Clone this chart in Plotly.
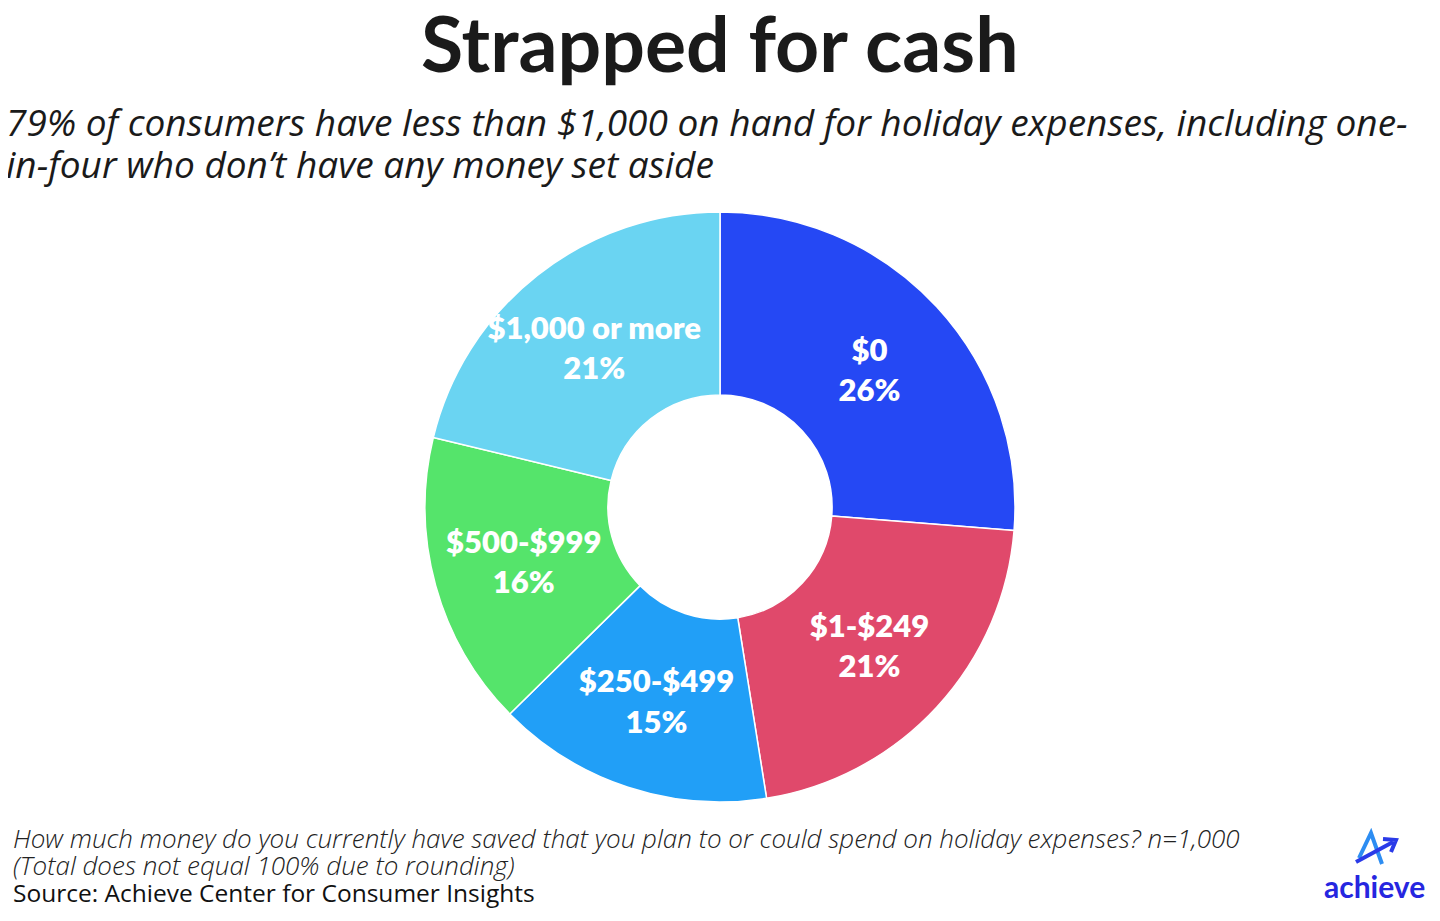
import plotly.graph_objects as go

categories = ["$0", "$1-$249", "$250-$499", "$500-$999", "$1,000 or more"]
shares = [26, 21, 15, 16, 21]
colors = ["#2548f4", "#e0496b", "#219ff7", "#55e46b", "#6ad4f2"]

OFF = 8
W, H = 1440 - OFF, 921 - OFF

def px(x):
    return (x - OFF) / W

def py(y):
    return 1 - (y - OFF) / H

fig = go.Figure()
fig.add_trace(go.Pie(
    labels=categories,
    values=shares,
    text=[f"{c}<br>{v}%" for c, v in zip(categories, shares)],
    textinfo="text",
    textposition="inside",
    insidetextorientation="horizontal",
    textfont=dict(family="Lato", size=31, color="white", weight=800),
    hole=0.38,
    sort=False,
    direction="clockwise",
    rotation=0,
    marker=dict(colors=colors, line=dict(color="white", width=1.5)),
    domain=dict(x=[px(720 - 400), px(720 + 400)], y=[py(507 + 295), py(507 - 295)]),
    showlegend=False,
))

def ann(text, x, y, xanchor, size, color, family="Open Sans", weight=400):
    return dict(text=text, x=px(x), y=py(y), xref="paper", yref="paper",
                xanchor=xanchor, yanchor="middle", showarrow=False,
                font=dict(family=family, size=size, color=color, weight=weight))

annotations = [
    ann("<b>Strapped for cash</b>", 720, 42, "center", 77, "#1a1a1a", family="Lato", weight=900),
    ann("<i>79% of consumers have less than $1,000 on hand for holiday expenses, including one-</i>",
        4, 122, "left", 37, "#1a1a1a"),
    ann("<i>in-four who don’t have any money set aside</i>", 4, 164, "left", 37, "#1a1a1a"),
    ann("<i>How much money do you currently have saved that you plan to or could spend on holiday expenses? n=1,000</i>",
        11, 838, "left", 26, "#222222", weight=300),
    ann("<i>(Total does not equal 100% due to rounding)</i>", 11, 865, "left", 26, "#222222", weight=300),
    ann("Source: Achieve Center for Consumer Insights", 11, 892, "left", 24.5, "#111111", weight=500),
    ann("<b>achieve</b>", 1374, 886, "center", 30, "#2626e0", family="Lato"),
]

shapes = [
    dict(type="path", xref="paper", yref="paper",
         path=f"M {px(1359)} {py(858)} L {px(1371)} {py(833)} L {px(1382)} {py(864)}",
         line=dict(color="#2d8df2", width=4)),
    dict(type="line", xref="paper", yref="paper",
         x0=px(1356), y0=py(862), x1=px(1393), y1=py(842),
         line=dict(color="#2a3ae8", width=4)),
    dict(type="path", xref="paper", yref="paper",
         path=f"M {px(1383)} {py(839)} L {px(1396)} {py(840)} L {px(1391)} {py(852)}",
         line=dict(color="#2a3ae8", width=4)),
]

fig.update_layout(
    width=W, height=H,
    margin=dict(l=0, r=0, t=0, b=0),
    paper_bgcolor="white",
    plot_bgcolor="white",
    annotations=annotations,
    shapes=shapes,
    uniformtext=dict(minsize=31, mode="show"),
)

fig.write_html("out.html")
